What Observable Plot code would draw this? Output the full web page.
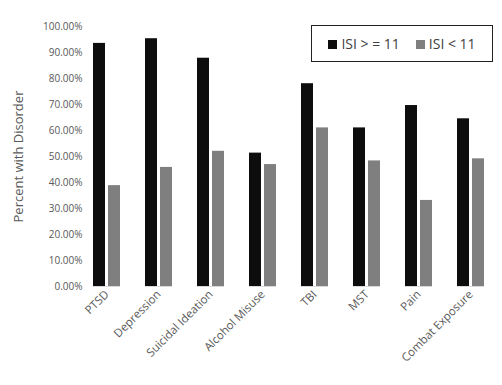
<!DOCTYPE html>
<html><head><meta charset="utf-8">
<script src="https://cdn.jsdelivr.net/npm/d3@7"></script>
<script src="https://cdn.jsdelivr.net/npm/@observablehq/plot@0.6"></script>
<style>
body{margin:0;background:#fff;font-family:"Open Sans",sans-serif;}
#wrap{position:relative;width:502px;height:385px;}
#legend{position:absolute;left:311px;top:25px;width:182px;height:37px;border:1px solid #222;box-sizing:border-box;display:flex;align-items:center;justify-content:center;gap:16px;font-size:14px;color:#404040;background:#fff;}
#legend span.sw{display:inline-block;width:9px;height:9px;margin-right:4px;vertical-align:middle;position:relative;top:-1px;}
</style></head><body>
<div id="wrap"></div>
<script>
const categories = ["PTSD","Depression","Suicidal Ideation","Alcohol Misuse","TBI","MST","Pain","Combat Exposure"];
const series = ["ISI > = 11","ISI < 11"];
const high = [93.5, 95.3, 87.8, 51.3, 78.0, 61.0, 69.6, 64.5];
const low = [38.8, 45.8, 52.0, 46.9, 61.0, 48.3, 33.1, 49.1];
const colors = ["#0d0d0d","#7f7f7f"];
const yTicks = [0,10,20,30,40,50,60,70,80,90,100];

const data = [];
categories.forEach((c,i)=>{
  data.push({category:c, series:series[0], value:high[i]/100});
  data.push({category:c, series:series[1], value:low[i]/100});
});

const chart = Plot.plot({
  width:502, height:385,
  marginLeft:78, marginRight:4, marginTop:26, marginBottom:99,
  style:{fontFamily:"'Open Sans',sans-serif", fontSize:"10px", color:"#595959", background:"#fff"},
  fx:{domain:categories, paddingInner:0.486, paddingOuter:0.243, label:null},
  x:{domain:series, paddingInner:0.2, paddingOuter:0, axis:null},
  y:{domain:[0,1], ticks:yTicks.map(d=>d/100), tickFormat:d3.format(".2%"), label:"Percent with Disorder"},
  color:{domain:series, range:colors},
  marks:[
    Plot.axisY({ticks:yTicks.map(d=>d/100), tickFormat:d3.format(".2%"), tickSize:0, tickPadding:11, label:"Percent with Disorder", labelAnchor:"center", labelArrow:"none", labelOffset:80, fontSize:10}),
    Plot.axisFx({tickSize:0, tickRotate:-45, tickPadding:6, fontSize:11.5, label:null, anchor:"bottom"}),
    Plot.barY(data, {fx:"category", x:"series", y:"value", fill:"series"}),
    Plot.ruleY([0], {stroke:"#d9d9d9", strokeWidth:1})
  ]
});
const wrap = document.getElementById("wrap");
wrap.appendChild(chart);
const lab = chart.querySelector('[aria-label="y-axis label"] text');
if (lab) lab.setAttribute("font-size","13px");
const leg = document.createElement("div");
leg.id = "legend";
series.forEach((s,i)=>{
  const it = document.createElement("div");
  it.innerHTML = `<span class="sw" style="background:${colors[i]}"></span>${s}`;
  leg.appendChild(it);
});
wrap.appendChild(leg);
</script>
</body></html>
